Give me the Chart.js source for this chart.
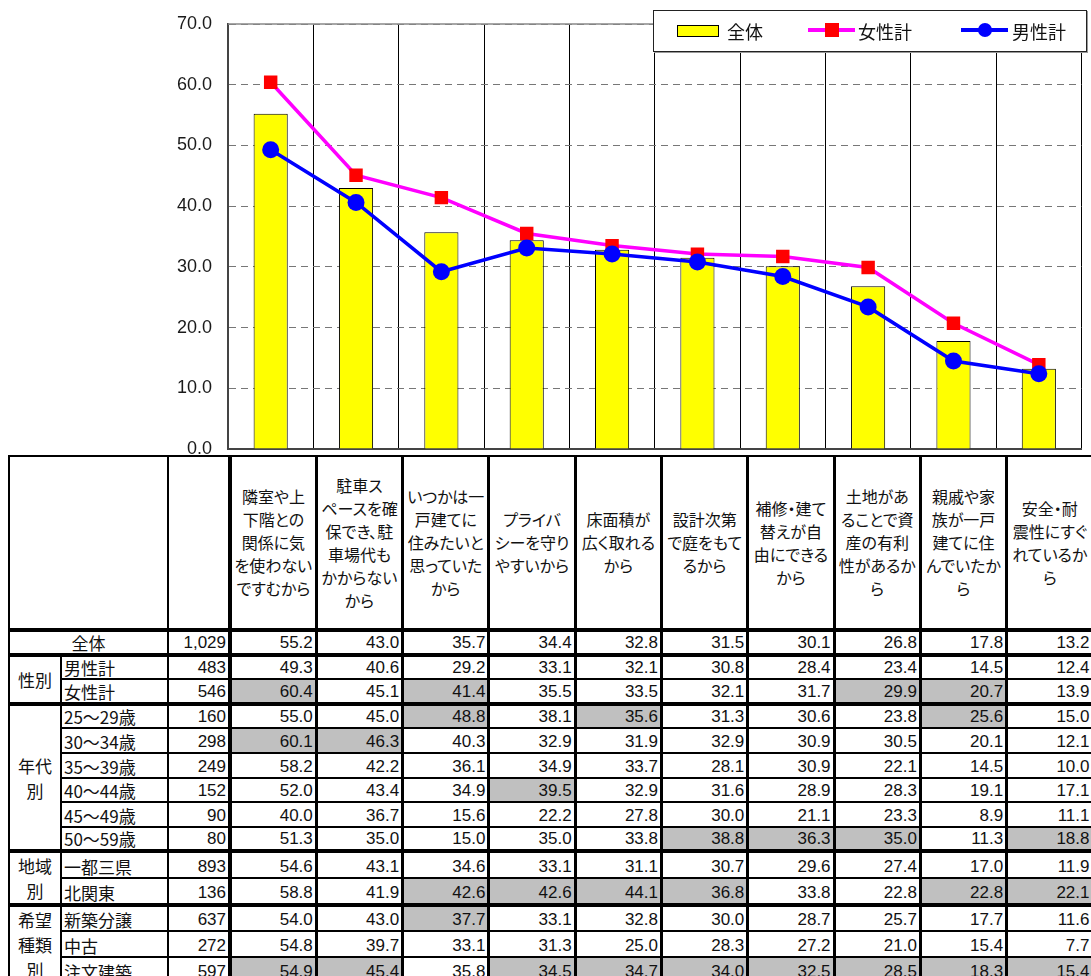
<!DOCTYPE html>
<html>
<head>
<meta charset="utf-8">
<script src="https://cdn.jsdelivr.net/npm/chart.js@4.4.1/dist/chart.umd.min.js"></script>
<style>
  body { margin: 0; background: #fff; }
  #wrap { position: relative; width: 1091px; height: 976px; overflow: hidden; }
  #chart { position: absolute; left: 0; top: 0; }
  #legend { position: absolute; left: 653px; top: 10px; width: 432px; height: 40px;
            border: 1px solid #222; background: #fff; font: 18px "Noto Sans CJK JP", sans-serif;
            box-shadow: 1px 1px 0 #999; }
  #legend .t { position: absolute; top: 0; line-height: 40px; color: #111; }
  #legend .sw { position: absolute; }
  #tbl { position: absolute; left: 8px; top: 455px; border-collapse: collapse; table-layout: fixed;
         width: 1084px; background: #fff; color: #111; }
  #tbl td, #tbl th { border: 2px solid #000; padding: 0; overflow: hidden; white-space: nowrap; }
  #tbl th { height: 171px; font: 16px/23px "Noto Sans CJK JP", sans-serif; font-weight: normal;
            font-feature-settings: "palt"; text-align: center; vertical-align: middle; }
  #tbl tr.r { height: 24.6px; }
  #tbl td { font: 17px/20px "Noto Sans CJK JP", sans-serif; vertical-align: bottom; }
  #tbl td.g { text-align: center; vertical-align: middle; line-height: 25px; }
  #tbl td.l { padding-left: 2px; }
  #tbl td.c { text-align: center; }
  #tbl td.n, #tbl td.v { text-align: right; padding-right: 2px; font-family: "Liberation Sans", sans-serif; }
  #tbl td.v, #tbl th.h { border-left-width: 3px; border-right-width: 3px; }
  #tbl td.f, #tbl th.f { border-left-width: 4px; }
  #tbl td.s { background: #c0c0c0; }
  #tbl tr.k td { border-top-width: 4px; }
</style>
</head>
<body>
<div id="wrap">
  <canvas id="chart" width="1091" height="459"></canvas>
  <div id="legend">
    <div class="sw" style="left:23px;top:14px;width:40px;height:10px;background:#ffff00;border:1px solid #000;"></div>
    <div class="t" style="left:73px;">全体</div>
    <div class="sw" style="left:154px;top:17px;width:47px;height:4px;background:#ff00ff;"></div>
    <div class="sw" style="left:171px;top:12px;width:14px;height:14px;background:#ff0000;"></div>
    <div class="t" style="left:204px;">女性計</div>
    <div class="sw" style="left:307px;top:17px;width:47px;height:4px;background:#0000ff;"></div>
    <div class="sw" style="left:324px;top:12px;width:14px;height:14px;border-radius:50%;background:#0000ff;"></div>
    <div class="t" style="left:358px;">男性計</div>
  </div>
  <table id="tbl"></table>
</div>
<script>
const categories = [
  ['隣室や上', '下階との', '関係に気', 'を使わない', 'ですむから'],
  ['駐車ス', 'ペースを確', '保でき、駐', '車場代も', 'かからない', 'から'],
  ['いつかは一', '戸建てに', '住みたいと', '思っていた', 'から'],
  ['プライバ', 'シーを守り', 'やすいから'],
  ['床面積が', '広く取れる', 'から'],
  ['設計次第', 'で庭をもて', 'るから'],
  ['補修・建て', '替えが自', '由にできる', 'から'],
  ['土地があ', 'ることで資', '産の有利', '性があるか', 'ら'],
  ['親戚や家', '族が一戸', '建てに住', 'んでいたか', 'ら'],
  ['安全・耐', '震性にすぐ', 'れているか', 'ら']
];
const totalValues  = [55.2, 43.0, 35.7, 34.4, 32.8, 31.5, 30.1, 26.8, 17.8, 13.2];
const femaleValues = [60.4, 45.1, 41.4, 35.5, 33.5, 32.1, 31.7, 29.9, 20.7, 13.9];
const maleValues   = [49.3, 40.6, 29.2, 33.1, 32.1, 30.8, 28.4, 23.4, 14.5, 12.4];
const yMin = 0, yMax = 70, yStep = 10;

const rowLabels = ['全体', '男性計', '女性計', '25～29歳', '30～34歳', '35～39歳', '40～44歳', '45～49歳',
                   '50～59歳', '一都三県', '北関東', '新築分譲', '中古', '注文建築'];
const rowCounts = ['1,029', '483', '546', '160', '298', '249', '152', '90', '80', '893', '136', '637', '272', '597'];
const rowValues = [
  totalValues,
  maleValues,
  femaleValues,
  [55.0, 45.0, 48.8, 38.1, 35.6, 31.3, 30.6, 23.8, 25.6, 15.0],
  [60.1, 46.3, 40.3, 32.9, 31.9, 32.9, 30.9, 30.5, 20.1, 12.1],
  [58.2, 42.2, 36.1, 34.9, 33.7, 28.1, 30.9, 22.1, 14.5, 10.0],
  [52.0, 43.4, 34.9, 39.5, 32.9, 31.6, 28.9, 28.3, 19.1, 17.1],
  [40.0, 36.7, 15.6, 22.2, 27.8, 30.0, 21.1, 23.3, 8.9, 11.1],
  [51.3, 35.0, 15.0, 35.0, 33.8, 38.8, 36.3, 35.0, 11.3, 18.8],
  [54.6, 43.1, 34.6, 33.1, 31.1, 30.7, 29.6, 27.4, 17.0, 11.9],
  [58.8, 41.9, 42.6, 42.6, 44.1, 36.8, 33.8, 22.8, 22.8, 22.1],
  [54.0, 43.0, 37.7, 33.1, 32.8, 30.0, 28.7, 25.7, 17.7, 11.6],
  [54.8, 39.7, 33.1, 31.3, 25.0, 28.3, 27.2, 21.0, 15.4, 7.7],
  [54.9, 45.4, 35.8, 34.5, 34.7, 34.0, 32.5, 28.5, 18.3, 15.4]
];
const shadedCells = [[], [], [0, 2, 7, 8], [2, 4, 8], [0, 1], [], [3], [], [5, 6, 7, 9], [],
                     [2, 3, 4, 5, 8, 9], [2], [], [0, 1, 3, 4, 5, 6, 7, 8, 9]];
const groupLabels = [['性別'], ['年代', '別'], ['地域', '別'], ['希望', '種類', '別']];
const groupStarts = [1, 3, 9, 11];
const groupSpans  = [2, 6, 2, 3];

// table under the chart
const tbl = document.getElementById('tbl');
let html = '<colgroup><col style="width:52px"><col style="width:107px"><col style="width:62px">';
for (let i = 0; i < categories.length; i++) html += '<col style="width:86.3px">';
html += '</colgroup>';
html += '<tr><th colspan="2"></th><th></th>';
categories.forEach((c, i) => {
  html += '<th class="h' + (i === 0 ? ' f' : '') + '">' + c.join('<br>') + '</th>';
});
html += '</tr>';
rowLabels.forEach((lab, r) => {
  const gi = groupStarts.indexOf(r);
  html += '<tr class="r' + (r === 0 || gi >= 0 ? ' k' : '') + '">';
  if (r === 0) {
    html += '<td colspan="2" class="c">' + lab + '</td>';
  } else {
    if (gi >= 0) html += '<td class="g" rowspan="' + groupSpans[gi] + '">' + groupLabels[gi].join('<br>') + '</td>';
    html += '<td class="l">' + lab + '</td>';
  }
  html += '<td class="n">' + rowCounts[r] + '</td>';
  rowValues[r].forEach((v, i) => {
    html += '<td class="v' + (i === 0 ? ' f' : '') + (shadedCells[r].includes(i) ? ' s' : '') + '">' + v.toFixed(1) + '</td>';
  });
  html += '</tr>';
});
tbl.innerHTML = html;

const topLine = {
  id: 'topLine',
  beforeDatasetsDraw(chart) {
    const { ctx, chartArea } = chart;
    ctx.save();
    ctx.strokeStyle = '#888';
    ctx.lineWidth = 1.5;
    ctx.beginPath();
    ctx.moveTo(chartArea.left, chartArea.top);
    ctx.lineTo(chartArea.right, chartArea.top);
    ctx.stroke();
    ctx.restore();
  }
};

new Chart(document.getElementById('chart'), {
  type: 'bar',
  data: {
    labels: categories,
    datasets: [
      {
        type: 'bar', label: '全体', data: totalValues, order: 3,
        backgroundColor: '#ffff00', borderColor: '#000', borderWidth: 1,
        categoryPercentage: 1, barPercentage: 0.4
      },
      {
        type: 'line', label: '女性計', data: femaleValues, order: 2,
        borderColor: '#ff00ff', borderWidth: 3.5, pointStyle: 'rect',
        pointRadius: 9.5, pointBackgroundColor: '#ff0000', pointBorderColor: '#ff0000', pointBorderWidth: 0
      },
      {
        type: 'line', label: '男性計', data: maleValues, order: 1,
        borderColor: '#0000ff', borderWidth: 3.5, pointStyle: 'circle',
        pointRadius: 8.5, pointBackgroundColor: '#0000ff', pointBorderColor: '#0000ff', pointBorderWidth: 0
      }
    ]
  },
  options: {
    responsive: false,
    devicePixelRatio: 1,
    animation: false,
    layout: { padding: { top: 24, right: 0, bottom: 10, left: 0 } },
    plugins: { legend: { display: false }, tooltip: { enabled: false } },
    scales: {
      x: {
        grid: { color: '#000', lineWidth: 1, offset: true, drawTicks: false },
        border: { color: '#444', width: 2 },
        ticks: { display: false },
        afterFit(scale) { scale.height = 0; scale.paddingLeft = 0; scale.paddingRight = 0; }
      },
      y: {
        min: yMin, max: yMax,
        grid: { color: '#777', lineWidth: 1, drawTicks: false },
        border: { color: '#444', width: 2, dash: [7, 5] },
        ticks: {
          stepSize: yStep, padding: 16, color: '#1a1a1a',
          font: { family: 'Liberation Sans', size: 18 },
          callback: v => v.toFixed(1)
        },
        afterFit(scale) { scale.width = 228; scale.paddingTop = 0; scale.paddingBottom = 0; }
      }
    }
  },
  plugins: [topLine]
});
</script>
</body>
</html>
